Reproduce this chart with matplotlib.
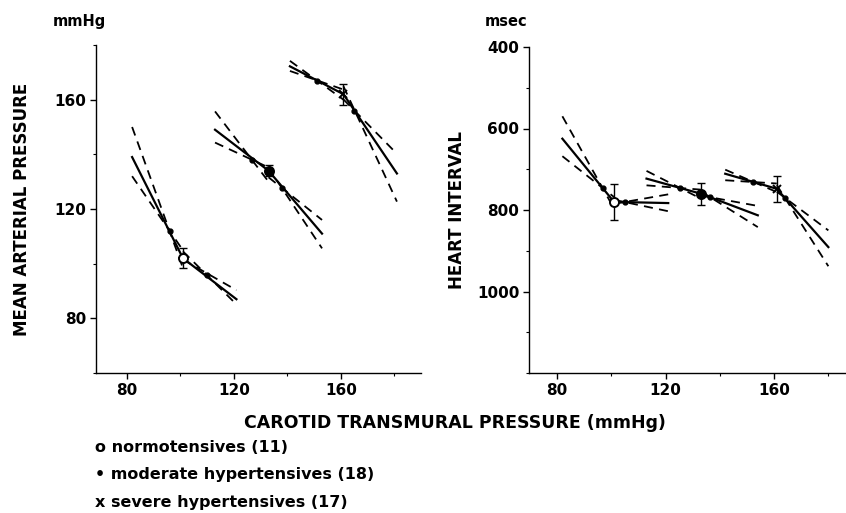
import matplotlib
matplotlib.use("Agg")
import matplotlib.pyplot as plt
from matplotlib.ticker import MultipleLocator

plt.rcParams['font.family'] = ['DejaVu Sans']
plt.rcParams['font.weight'] = 'bold'

# groups
groups = ['normotensives', 'moderate hypertensives', 'severe hypertensives']
group_n = [11, 18, 17]
markers = ['o', 'o', 'x']
faces = ['white', 'black', 'black']
legend_sym = ['o', '\u2022', 'x']

# operating point (carotid transmural pressure, mmHg)
point_x = [101, 133, 161]

# --- mean arterial pressure panel ---
map_y = [102, 134, 162]
map_err = [3.6, 2.0, 3.8]
map_x0 = [82, 113, 141]
map_x1 = [121, 153, 181]
map_y0 = [139, 149, 172.2]
map_y1 = [87, 111, 133]
# dashed limits, segment below operating point (at x0, at point)
map_da0 = [150, 155.7, 174.2]
map_da_p = [98.4, 130, 160]
map_db0 = [132, 144.3, 170.5]
map_db_p = [104.9, 135.2, 163.7]
# dashed limits, segment above operating point (at point, at x1)
map_ua_p = [101.5, 131.6, 160.1]
map_ua1 = [90.3, 116, 140.2]
map_ub_p = [104.5, 135, 164.9]
map_ub1 = [85.1, 105.6, 122.7]
# small intermediate points
map_sx = [96, 110, 127, 138, 151, 165]
map_sy = [112, 96, 138, 127.7, 167, 156]

# --- heart interval panel ---
hi_y = [780, 760, 748]
hi_err = [44, 27, 32]
hi_x0 = [82, 113, 142]
hi_x1 = [121, 154, 180]
hi_y0 = [625, 723, 711]
hi_y1 = [783, 813, 891]
hi_da0 = [570, 704, 701]
hi_da_p = [796, 772, 756]
hi_db0 = [668, 739.5, 727]
hi_db_p = [768, 750, 735]
hi_ua_p = [785, 764.5, 755]
hi_ua1 = [761.6, 790, 850]
hi_ub_p = [775, 754, 739]
hi_ub1 = [803, 842, 938]
hi_sx = [96.8, 105, 125.3, 136.4, 152.4, 164]
hi_sy = [746, 781, 746, 769, 731, 771]


def draw_panel(ax, py, err, x0, x1, y0, y1, da0, da_p, db0, db_p,
               ua_p, ua1, ub_p, ub1, sx, sy):
    dash = (0, (5, 3.5))
    for i in range(3):
        px = point_x[i]
        ax.plot([x0[i], px, x1[i]], [y0[i], py[i], y1[i]], color='black', lw=1.6)
        ax.plot([x0[i], px], [da0[i], da_p[i]], color='black', lw=1.3, linestyle=dash)
        ax.plot([x0[i], px], [db0[i], db_p[i]], color='black', lw=1.3, linestyle=dash)
        ax.plot([px, x1[i]], [ua_p[i], ua1[i]], color='black', lw=1.3, linestyle=dash)
        ax.plot([px, x1[i]], [ub_p[i], ub1[i]], color='black', lw=1.3, linestyle=dash)
    ax.plot(sx, sy, linestyle='none', marker='o', ms=3.5, color='black', zorder=4)
    for i in range(3):
        ax.errorbar(point_x[i], py[i], yerr=err[i], fmt='none', ecolor='black',
                    elinewidth=1.0, capsize=3, capthick=1.0, zorder=5)
        ax.plot(point_x[i], py[i], marker=markers[i], ms=6.5 if markers[i] == 'o' else 6,
                mfc=faces[i], mec='black', mew=1.4, color='black', zorder=6)
    for s in ['top', 'right']:
        ax.spines[s].set_visible(False)
    for s in ['left', 'bottom']:
        ax.spines[s].set_linewidth(1.0)
    ax.xaxis.set_major_locator(MultipleLocator(40))
    ax.xaxis.set_minor_locator(MultipleLocator(20))
    ax.tick_params(which='major', direction='out', length=4, width=1.0,
                   labelsize=11, pad=3)
    ax.tick_params(which='minor', direction='out', length=2.5, width=0.8)


fig = plt.figure(figsize=(8.46, 5.13), dpi=100)

ax1 = fig.add_axes([96 / 846, 1 - 373 / 513, 325 / 846, 328 / 513])
draw_panel(ax1, map_y, map_err, map_x0, map_x1, map_y0, map_y1,
           map_da0, map_da_p, map_db0, map_db_p,
           map_ua_p, map_ua1, map_ub_p, map_ub1, map_sx, map_sy)
ax1.set_xlim(68.5, 190)
ax1.set_ylim(60, 180)
ax1.set_xticks([80, 120, 160])
ax1.set_yticks([80, 120, 160])
ax1.yaxis.set_minor_locator(MultipleLocator(20))
ax1.set_ylabel('MEAN ARTERIAL PRESSURE', fontsize=12, fontweight='bold')
ax1.yaxis.set_label_coords(-0.2, 0.5)

ax2 = fig.add_axes([529 / 846, 1 - 373 / 513, 317 / 846, 326 / 513])
draw_panel(ax2, hi_y, hi_err, hi_x0, hi_x1, hi_y0, hi_y1,
           hi_da0, hi_da_p, hi_db0, hi_db_p,
           hi_ua_p, hi_ua1, hi_ub_p, hi_ub1, hi_sx, hi_sy)
ax2.set_xlim(69.7, 186.5)
ax2.set_ylim(1200, 400)
ax2.set_xticks([80, 120, 160])
ax2.set_yticks([400, 600, 800, 1000])
ax2.yaxis.set_minor_locator(MultipleLocator(100))
ax2.set_ylabel('HEART INTERVAL', fontsize=12, fontweight='bold')
ax2.yaxis.set_label_coords(-0.2, 0.5)

for ax in (ax1, ax2):
    for lab in ax.get_xticklabels() + ax.get_yticklabels():
        lab.set_fontweight('bold')

fig.text(53 / 846, 1 - 26 / 513, 'mmHg', fontsize=10.5, fontweight='bold', va='baseline')
fig.text(485 / 846, 1 - 26 / 513, 'msec', fontsize=10.5, fontweight='bold', va='baseline')

fig.text(455 / 846, 1 - 423 / 513, 'CAROTID TRANSMURAL PRESSURE (mmHg)',
         fontsize=12.5, fontweight='bold', ha='center', va='center')

rows_y = [448, 475, 502]
for sym, name, n, yy in zip(legend_sym, groups, group_n, rows_y):
    fig.text(95 / 846, 1 - yy / 513, f'{sym} {name} ({n})', fontsize=11.5,
             fontweight='bold', ha='left', va='center')

fig.savefig('out.png', dpi=100)
